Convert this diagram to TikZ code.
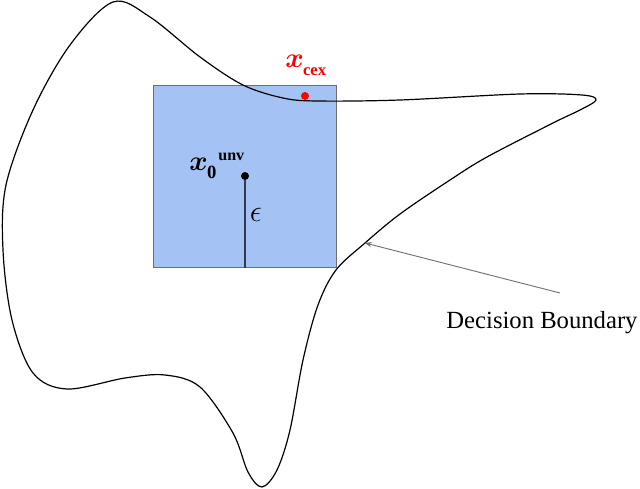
\documentclass[tikz,border=0pt]{standalone}
\usepackage{fix-cm}
\usepackage{fontspec}
\usepackage{amsmath,bm}
\setmainfont{Liberation Serif}
\usetikzlibrary{arrows.meta}
\definecolor{boxblue}{HTML}{A4C2F4}
\definecolor{boxedge}{HTML}{6E6E6E}
\definecolor{stem}{HTML}{2E3A4E}
\newcommand{\bigx}{{\fontsize{21}{21}\selectfont$\bm{x}$}}
\begin{document}
\begin{tikzpicture}[x=0.75pt,y=-0.75pt,
  region/.style={draw=boxedge, line width=0.8pt, fill=boxblue},
  dotnode/.style={circle, inner sep=0pt, minimum size=6pt},
  boundary/.style={black, line width=0.9pt},
  pointer/.style={draw=black!55, line width=0.7pt, -{Stealth[length=5pt,width=4pt]}},
  lbl/.style={inner sep=0pt, font=\fontsize{18.5}{20}\selectfont}
]
\useasboundingbox (0,0) rectangle (640,489);
% perturbation box
\node[region, minimum width=183*0.75pt, minimum height=182*0.75pt, anchor=north west, inner sep=0pt] (box) at (153,85) {};
% decision boundary
\draw[boundary] plot[smooth cycle, tension=0.55] coordinates {
  (113,2) (150,17) (200,57) (243,85) (283,98) (317,101) (400,100) (520,94)
  (582,95) (596,100) (580,110) (553,123) (487,157) (450,180) (400,214)
  (365,243) (336,270) (318,305) (303,360) (290,430) (277,470) (262,487)
  (248,472) (233,433) (200,387) (165,375) (125,378) (67,389)
  (33,373) (12,320) (3,250) (6,185) (33,110) (70,45)};
% points
\node[dotnode, fill=black] (x0) at (245,176) {};
\draw[line width=1.3pt, stem] (x0) -- (x0 |- box.south);
\node[inner sep=0pt] (eps) at (256,215) {\fontsize{23}{23}\selectfont$\epsilon$};
\node[inner sep=0pt, anchor=base west] (x0lbl) at (189,170)
  {\bigx\kern-0.5pt\raisebox{-6pt}{\fontsize{14}{14}\selectfont\textbf{0}}\kern1.5pt\raisebox{7pt}{\fontsize{12}{12}\selectfont\textbf{unv}}};
\node[dotnode, fill=red] (xc) at (305,96) {};
\node[inner sep=0pt, anchor=base west, text=red] (xclbl) at (285,67)
  {\bigx\kern-0.5pt\raisebox{-6pt}{\fontsize{12.5}{12.5}\selectfont\textbf{cex}}};
% annotation
\coordinate (db) at (365,243);
\node[lbl] (dblabel) at (542,323) {Decision Boundary};
\draw[pointer] (560,293) -- (db);
\end{tikzpicture}
\end{document}
